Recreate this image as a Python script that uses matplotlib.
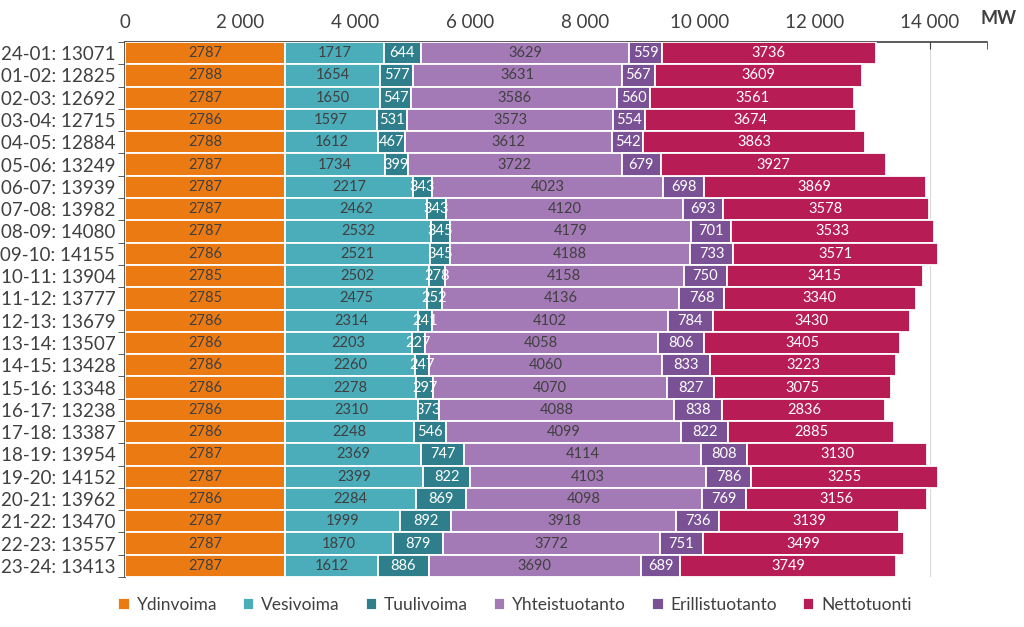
import matplotlib
matplotlib.use("Agg")
import matplotlib.pyplot as plt
from matplotlib.ticker import MultipleLocator, FuncFormatter, FixedLocator
import numpy as np

plt.rcParams['font.family'] = ['Lato', 'DejaVu Sans']

hours = ["24-01", "01-02", "02-03", "03-04", "04-05", "05-06", "06-07", "07-08",
         "08-09", "09-10", "10-11", "11-12", "12-13", "13-14", "14-15", "15-16",
         "16-17", "17-18", "18-19", "19-20", "20-21", "21-22", "22-23", "23-24"]
totals = [13071, 12825, 12692, 12715, 12884, 13249, 13939, 13982, 14080, 14155,
          13904, 13777, 13679, 13507, 13428, 13348, 13238, 13387, 13954, 14152,
          13962, 13470, 13557, 13413]

ydinvoima = [2787, 2788, 2787, 2786, 2788, 2787, 2787, 2787, 2787, 2786, 2785, 2785,
             2786, 2786, 2786, 2786, 2786, 2786, 2787, 2787, 2786, 2787, 2787, 2787]
vesivoima = [1717, 1654, 1650, 1597, 1612, 1734, 2217, 2462, 2532, 2521, 2502, 2475,
             2314, 2203, 2260, 2278, 2310, 2248, 2369, 2399, 2284, 1999, 1870, 1612]
tuulivoima = [644, 577, 547, 531, 467, 399, 343, 343, 345, 345, 278, 252,
              241, 227, 247, 297, 373, 546, 747, 822, 869, 892, 879, 886]
yhteistuotanto = [3629, 3631, 3586, 3573, 3612, 3722, 4023, 4120, 4179, 4188, 4158, 4136,
                  4102, 4058, 4060, 4070, 4088, 4099, 4114, 4103, 4098, 3918, 3772, 3690]
erillistuotanto = [559, 567, 560, 554, 542, 679, 698, 693, 701, 733, 750, 768,
                   784, 806, 833, 827, 838, 822, 808, 786, 769, 736, 751, 689]
nettotuonti = [3736, 3609, 3561, 3674, 3863, 3927, 3869, 3578, 3533, 3571, 3415, 3340,
               3430, 3405, 3223, 3075, 2836, 2885, 3130, 3255, 3156, 3139, 3499, 3749]

series_names = ["Ydinvoima", "Vesivoima", "Tuulivoima", "Yhteistuotanto",
                "Erillistuotanto", "Nettotuonti"]
series = [ydinvoima, vesivoima, tuulivoima, yhteistuotanto, erillistuotanto, nettotuonti]
colors = ["#EC7A12", "#4BACBA", "#2E7F8B", "#A47AB6", "#7A5195", "#B71C55"]
text_colors = ["#404040", "#404040", "white", "#404040", "white", "white"]

fig = plt.figure(figsize=(10.24, 6.27), dpi=100)
ax = fig.add_axes([125/1024, 1-577/627, (987-125)/1024, (577-42)/627])

y = np.arange(len(hours))
left = np.zeros(len(hours))
handles = []
for name, vals, c, tc in zip(series_names, series, colors, text_colors):
    vals = np.array(vals, dtype=float)
    bars = ax.barh(y, vals, left=left, height=1.0, color=c, edgecolor="white",
                   linewidth=1.3, label=name, zorder=3)
    handles.append(bars)
    for yi, l, v in zip(y, left, vals):
        ax.text(l + v/2, yi, f"{int(v)}", ha="center", va="center",
                fontsize=10.5, color=tc, zorder=4)
    left += vals

ax.set_ylim(len(hours)-0.5, -0.5)
ax.set_xlim(0, 15000)

ax.xaxis.tick_top()
ax.xaxis.set_major_locator(FixedLocator([0, 2000, 4000, 6000, 8000, 10000, 12000, 14000]))
ax.xaxis.set_minor_locator(MultipleLocator(1000))
ax.xaxis.set_major_formatter(FuncFormatter(lambda v, p: f"{int(v):,}".replace(",", " ")))
ax.tick_params(axis="x", which="both", direction="in", length=5, color="#404040",
               labelsize=13.5, labelcolor="#404040", pad=8, top=True, bottom=False)
ax.xaxis.set_tick_params(which="minor", direction="in", length=5)
ax.grid(axis="x", which="major", color="#d9d9d9", linewidth=0.8, zorder=0)

ax.set_yticks(y)
ax.set_yticklabels([f"{h}: {t}" for h, t in zip(hours, totals)])
ax.yaxis.set_minor_locator(FixedLocator(np.arange(-0.5, len(hours), 1.0)))
ax.tick_params(axis="y", which="major", length=0, labelsize=13.5, labelcolor="#404040", pad=7)
ax.tick_params(axis="y", which="minor", length=5, direction="out", color="#404040")

for s in ["right", "bottom"]:
    ax.spines[s].set_visible(False)
ax.spines["top"].set_color("#404040")
ax.spines["left"].set_color("#404040")
ax.spines["top"].set_linewidth(1.2)
ax.spines["left"].set_linewidth(1.2)

fig.text(998/1024, 1-18/627, "MW", fontsize=13, fontweight="bold", color="#404040",
         ha="center", va="center")

fig.legend(handles=handles, labels=series_names, loc="center", ncol=6,
           bbox_to_anchor=(0.503, 1-605/627), frameon=False, fontsize=12.5,
           handlelength=0.65, handleheight=0.65, handletextpad=0.4, columnspacing=1.5,
           labelcolor="#404040")

fig.savefig("out.png", dpi=100)
